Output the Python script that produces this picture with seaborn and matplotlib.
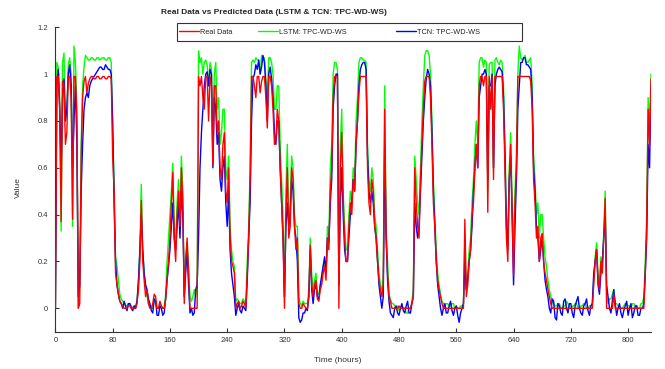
import numpy as np
import pandas as pd
import matplotlib
matplotlib.use("Agg")
import matplotlib.pyplot as plt
import seaborn as sns
from matplotlib.lines import Line2D
from matplotlib.patches import Rectangle

# series sampled every 2 hours (0 .. 832 h), one row = 40 hours
hours = np.arange(0, 833, 2)

real_data = [
    0.0, 0.99, 0.99, 0.85, 0.37, 0.97, 0.95, 0.7, 0.75, 0.99, 0.99, 0.9, 0.38, 0.99, 0.99, 0.8, 0.0, 0.02, 0.65, 0.9,
    0.97, 0.99, 0.92, 0.96, 0.98, 0.99, 0.99, 0.98, 0.98, 0.99, 0.99, 0.98, 0.98, 0.99, 0.99, 0.98, 0.98, 0.99, 0.99, 0.98,
    0.65, 0.5, 0.15, 0.1, 0.06, 0.03, 0.02, 0.01, 0.0, 0.0, 0.0, 0.01, 0.01, 0.0, 0.0, 0.0, 0.0, 0.02, 0.08, 0.2,
    0.46, 0.2, 0.12, 0.05, 0.08, 0.02, 0.0, 0.0, 0.02, 0.06, 0.05, 0.0, 0.0, 0.03, 0.01, 0.0, 0.0, 0.04, 0.12, 0.2,
    0.3, 0.45, 0.58, 0.3, 0.2, 0.4, 0.5, 0.35, 0.6, 0.45, 0.02, 0.2, 0.3, 0.15, 0.0, 0.0, 0.0, 0.0, 0.0, 0.0,
    0.99, 0.95, 0.99, 0.9, 0.85, 0.99, 0.99, 0.8, 0.99, 0.95, 0.61, 0.95, 0.95, 0.75, 0.8, 0.6, 0.55, 0.7, 0.75, 0.5,
    0.45, 0.6, 0.3, 0.2, 0.18, 0.15, 0.0, 0.02, 0.03, 0.0, 0.01, 0.03, 0.02, 0.0, 0.15, 0.3, 0.55, 0.99, 0.99, 0.95,
    0.9, 0.99, 0.99, 0.92, 0.97, 0.99, 0.99, 0.9, 0.77, 0.99, 0.99, 0.95, 0.85, 0.7, 0.72, 0.85, 0.8, 0.6, 0.45, 0.3,
    0.0, 0.4, 0.6, 0.3, 0.35, 0.6, 0.55, 0.35, 0.25, 0.3, 0.02, 0.0, 0.0, 0.02, 0.01, 0.0, 0.0, 0.05, 0.27, 0.1,
    0.05, 0.1, 0.12, 0.04, 0.03, 0.08, 0.1, 0.15, 0.18, 0.12, 0.3, 0.25, 0.5, 0.6, 0.9, 0.99, 0.99, 0.99, 0.0, 0.6,
    0.75, 0.45, 0.3, 0.2, 0.2, 0.35, 0.45, 0.4, 0.55, 0.5, 0.7, 0.8, 0.92, 0.99, 0.99, 0.99, 0.99, 0.99, 0.6, 0.45,
    0.4, 0.55, 0.5, 0.35, 0.3, 0.2, 0.12, 0.08, 0.05, 0.1, 0.85, 0.3, 0.15, 0.05, 0.03, 0.0, 0.0, 0.0, 0.0, 0.0,
    0.01, 0.0, 0.0, 0.0, 0.0, 0.0, 0.0, 0.0, 0.0, 0.02, 0.05, 0.6, 0.45, 0.35, 0.3, 0.55, 0.7, 0.85, 0.97, 0.99,
    0.99, 0.99, 0.9, 0.7, 0.45, 0.35, 0.2, 0.12, 0.08, 0.05, 0.02, 0.0, 0.0, 0.0, 0.0, 0.0, 0.0, 0.0, 0.0, 0.0,
    0.0, 0.0, 0.0, 0.0, 0.0, 0.0, 0.38, 0.05, 0.1, 0.2, 0.25, 0.4, 0.45, 0.6, 0.7, 0.6, 0.95, 0.99, 0.99, 0.95,
    0.99, 0.99, 0.41, 0.99, 0.85, 0.99, 0.55, 0.99, 0.99, 0.99, 0.99, 0.99, 0.99, 0.85, 0.6, 0.3, 0.2, 0.55, 0.7, 0.4,
    0.14, 0.45, 0.6, 0.99, 0.99, 0.99, 0.99, 0.99, 0.99, 0.99, 0.99, 0.99, 0.97, 0.85, 0.55, 0.45, 0.3, 0.35, 0.2, 0.3,
    0.32, 0.2, 0.15, 0.12, 0.08, 0.05, 0.02, 0.0, 0.0, 0.0, 0.0, 0.0, 0.0, 0.0, 0.0, 0.0, 0.0, 0.0, 0.0, 0.0,
    0.0, 0.0, 0.0, 0.0, 0.0, 0.0, 0.0, 0.0, 0.0, 0.0, 0.0, 0.0, 0.0, 0.0, 0.0, 0.0, 0.1, 0.2, 0.25, 0.12,
    0.08, 0.2, 0.15, 0.3, 0.47, 0.0, 0.0, 0.0, 0.0, 0.0, 0.06, 0.0, 0.0, 0.0, 0.0, 0.0, 0.0, 0.0, 0.0, 0.0,
    0.0, 0.0, 0.0, 0.0, 0.0, 0.0, 0.0, 0.0, 0.0, 0.0, 0.0, 0.0, 0.15, 0.35, 0.85, 0.7, 0.98,
]

lstm_pred = [
    0.0, 1.05, 1.03, 0.9, 0.33, 1.05, 1.09, 0.8, 0.85, 1.04, 1.07, 1.0, 0.35, 1.12, 1.05, 0.85, 0.0, 0.1, 0.7, 0.95,
    1.03, 1.08, 1.07, 1.06, 1.06, 1.07, 1.07, 1.06, 1.06, 1.07, 1.07, 1.06, 1.065, 1.07, 1.07, 1.06, 1.06, 1.07, 1.07, 1.05,
    0.75, 0.55, 0.22, 0.18, 0.12, 0.06, 0.04, 0.03, 0.02, 0.01, 0.01, 0.02, 0.02, 0.01, 0.0, 0.01, 0.01, 0.03, 0.1, 0.25,
    0.53, 0.25, 0.15, 0.08, 0.05, 0.02, 0.01, 0.0, 0.0, 0.04, 0.02, 0.0, 0.0, 0.02, 0.01, 0.0, 0.0, 0.06, 0.2, 0.3,
    0.4, 0.5, 0.62, 0.35, 0.3, 0.45, 0.55, 0.4, 0.65, 0.5, 0.05, 0.22, 0.28, 0.18, 0.05, 0.03, 0.05, 0.08, 0.05, 0.1,
    1.1, 1.05, 1.07, 1.0, 1.05, 1.06, 1.04, 0.95, 1.05, 1.02, 0.7, 1.0, 1.05, 0.85, 0.9, 0.7, 0.75, 0.85, 0.85, 0.6,
    0.55, 0.65, 0.35, 0.25, 0.2, 0.18, 0.03, 0.04, 0.03, 0.02, 0.02, 0.04, 0.03, 0.02, 0.2, 0.35, 0.6, 1.05, 1.06, 1.05,
    1.07, 1.06, 1.06, 1.0, 1.08, 1.07, 1.07, 0.98, 0.9, 1.07, 1.07, 1.05, 1.0, 0.85, 0.85, 0.95, 0.95, 0.7, 0.55, 0.4,
    0.05, 0.5, 0.7, 0.35, 0.45, 0.65, 0.6, 0.4, 0.35, 0.35, 0.05, 0.02, 0.01, 0.03, 0.02, 0.02, 0.02, 0.08, 0.3, 0.15,
    0.08, 0.12, 0.15, 0.06, 0.06, 0.1, 0.12, 0.18, 0.2, 0.15, 0.35, 0.3, 0.6, 0.7, 1.0, 1.05, 1.05, 1.02, 0.1, 0.7,
    0.85, 0.5, 0.35, 0.25, 0.25, 0.4, 0.5, 0.45, 0.6, 0.55, 0.8, 0.9, 1.05, 1.07, 1.07, 1.06, 1.06, 1.05, 0.7, 0.55,
    0.5, 0.6, 0.55, 0.4, 0.35, 0.25, 0.15, 0.1, 0.08, 0.12, 0.95, 0.35, 0.2, 0.06, 0.04, 0.02, 0.02, 0.01, 0.0, 0.01,
    -0.01, 0.0, 0.01, 0.0, 0.0, -0.02, -0.02, 0.0, 0.0, 0.03, 0.08, 0.65, 0.55, 0.45, 0.4, 0.6, 0.8, 0.95, 1.08, 1.1,
    1.1, 1.08, 1.0, 0.8, 0.55, 0.4, 0.25, 0.15, 0.1, 0.06, 0.03, 0.02, 0.01, 0.02, 0.02, 0.01, 0.01, 0.02, 0.02, 0.0,
    0.01, 0.0, 0.0, 0.01, 0.01, 0.02, 0.3, 0.08, 0.15, 0.25, 0.3, 0.45, 0.55, 0.7, 0.8, 0.7, 1.05, 1.07, 1.07, 1.03,
    1.06, 1.05, 0.5, 1.04, 1.05, 1.05, 0.6, 1.06, 1.07, 1.05, 1.04, 1.06, 1.05, 0.95, 0.7, 0.4, 0.3, 0.6, 0.75, 0.45,
    0.25, 0.5, 0.65, 1.0, 1.12, 1.07, 1.06, 1.07, 1.08, 1.05, 1.05, 1.06, 1.07, 0.95, 0.65, 0.55, 0.4, 0.45, 0.3, 0.4,
    0.4, 0.3, 0.22, 0.18, 0.12, 0.08, 0.05, 0.03, 0.02, 0.01, 0.01, 0.02, 0.02, 0.0, 0.0, 0.01, 0.01, 0.03, 0.02, 0.0,
    0.0, 0.01, 0.01, 0.02, 0.02, 0.0, 0.0, 0.01, 0.01, 0.02, 0.02, 0.0, 0.0, 0.01, 0.01, 0.02, 0.12, 0.22, 0.28, 0.15,
    0.1, 0.22, 0.18, 0.32, 0.5, 0.05, 0.02, 0.04, 0.04, 0.06, 0.08, 0.02, 0.02, 0.01, 0.01, 0.0, 0.0, 0.01, 0.02, 0.02,
    0.01, 0.01, 0.0, 0.02, 0.02, 0.01, 0.01, 0.0, 0.0, 0.02, 0.02, 0.05, 0.2, 0.4, 0.9, 0.75, 1.0,
]

tcn_pred = [
    0.0, 0.95, 1.02, 0.85, 0.6, 0.9, 0.98, 0.8, 0.85, 1.0, 1.04, 0.95, 0.6, 0.8, 0.95, 0.7, 0.05, 0.1, 0.5, 0.7,
    0.85, 0.9, 0.92, 0.9, 0.95, 0.97, 0.98, 0.99, 1.0, 1.01, 1.02, 1.03, 1.03, 1.02, 1.02, 1.04, 1.03, 1.02, 1.02, 1.0,
    0.8, 0.45, 0.2, 0.1, 0.06, 0.03, 0.02, 0.0, 0.03, 0.01, -0.01, 0.02, 0.02, 0.0, -0.01, 0.01, 0.0, 0.03, 0.12, 0.25,
    0.4, 0.25, 0.15, 0.1, 0.08, 0.04, 0.02, -0.01, -0.02, 0.04, 0.03, -0.03, -0.03, 0.01, 0.0, -0.03, -0.02, 0.04, 0.12, 0.18,
    0.25, 0.35, 0.45, 0.3, 0.25, 0.35, 0.45, 0.3, 0.5, 0.4, 0.05, 0.15, 0.25, 0.1, -0.02, 0.0, -0.03, -0.02, 0.08, 0.1,
    0.3, 0.6, 0.75, 0.85, 0.95, 1.0, 1.01, 0.95, 1.02, 1.0, 0.6, 0.9, 0.85, 0.7, 0.75, 0.55, 0.5, 0.6, 0.65, 0.45,
    0.35, 0.5, 0.25, 0.15, 0.1, 0.05, -0.03, 0.0, 0.02, -0.01, -0.02, 0.01, 0.0, -0.01, 0.12, 0.3, 0.45, 0.8, 0.98, 1.0,
    1.04, 1.02, 1.06, 1.0, 1.03, 1.08, 1.05, 0.95, 0.8, 1.0, 1.03, 0.98, 0.9, 0.75, 0.7, 0.8, 0.8, 0.6, 0.45, 0.3,
    0.05, 0.35, 0.45, 0.35, 0.4, 0.55, 0.5, 0.35, 0.3, 0.2, -0.04, -0.06, -0.05, -0.02, -0.02, 0.0, -0.01, 0.05, 0.25, 0.08,
    0.02, 0.08, 0.1, 0.05, 0.04, 0.1, 0.14, 0.18, 0.22, 0.15, 0.3, 0.28, 0.45, 0.55, 0.85, 0.95, 1.0, 1.0, 0.1, 0.45,
    0.6, 0.4, 0.25, 0.2, 0.2, 0.3, 0.4, 0.45, 0.55, 0.5, 0.7, 0.8, 0.95, 1.02, 1.04, 1.05, 1.05, 1.02, 0.65, 0.5,
    0.45, 0.5, 0.45, 0.35, 0.3, 0.2, 0.1, 0.05, 0.0, 0.05, 0.7, 0.3, 0.12, 0.03, -0.02, -0.03, -0.04, 0.0, 0.01, -0.02,
    -0.03, 0.0, 0.02, -0.01, -0.02, 0.01, 0.03, -0.02, -0.02, 0.02, 0.05, 0.45, 0.35, 0.3, 0.35, 0.5, 0.65, 0.8, 0.9, 0.98,
    1.02, 1.0, 0.95, 0.75, 0.5, 0.35, 0.2, 0.1, 0.05, 0.0, -0.03, 0.0, 0.02, -0.02, -0.02, 0.01, 0.03, -0.01, -0.03, 0.0,
    0.01, -0.03, -0.06, -0.02, 0.0, 0.02, 0.2, 0.08, 0.12, 0.2, 0.25, 0.35, 0.5, 0.6, 0.7, 0.6, 0.9, 0.95, 1.0, 1.0,
    1.02, 1.0, 0.55, 0.95, 0.95, 1.0, 0.6, 0.95, 1.0, 1.02, 1.03, 1.02, 1.01, 0.9, 0.65, 0.35, 0.25, 0.55, 0.65, 0.4,
    0.1, 0.35, 0.55, 0.85, 0.95, 1.05, 1.05, 1.07, 1.07, 1.04, 1.04, 1.03, 1.02, 0.9, 0.6, 0.5, 0.35, 0.3, 0.2, 0.25,
    0.3, 0.2, 0.12, 0.08, 0.05, 0.0, -0.02, 0.04, 0.03, -0.04, -0.05, 0.02, 0.01, -0.02, -0.03, 0.03, 0.04, 0.0, -0.02, 0.02,
    0.02, -0.02, -0.04, 0.01, 0.03, 0.05, 0.0, -0.02, -0.03, 0.01, 0.02, 0.04, -0.01, -0.03, 0.01, 0.02, 0.15, 0.2, 0.25, 0.1,
    0.06, 0.15, 0.2, 0.3, 0.4, 0.1, 0.05, 0.0, -0.02, 0.03, 0.08, 0.02, -0.03, 0.0, 0.02, -0.02, -0.04, -0.01, 0.01, 0.03,
    -0.03, 0.0, 0.02, -0.04, -0.02, 0.01, 0.01, -0.03, -0.03, 0.0, 0.0, 0.02, 0.15, 0.3, 0.7, 0.6, 0.95,
]

x_ticks = [0, 80, 160, 240, 320, 400, 480, 560, 640, 720, 800]
y_ticks = [0, 0.2, 0.4, 0.6, 0.8, 1.0, 1.2]
y_tick_labels = ["0", "0.2", "0.4", "0.6", "0.8", "1", "1.2"]

df = pd.DataFrame({"Time": hours, "Real": real_data, "LSTM": lstm_pred, "TCN": tcn_pred})

sns.set_style("ticks")
plt.rcParams["font.family"] = ["Liberation Sans", "DejaVu Sans"]

W, H = 665, 369
fig = plt.figure(figsize=(W / 100, H / 100), dpi=100)
ax = fig.add_axes([55.4 / W, 1 - 331.7 / H, (651 - 55.4) / W, (331.7 - 27.3) / H])

lw = 1.0
sns.lineplot(data=df, x="Time", y="LSTM", color="#00ff00", lw=lw, ax=ax, zorder=2)
sns.lineplot(data=df, x="Time", y="TCN", color="#0000ff", lw=lw, ax=ax, zorder=3)
sns.lineplot(data=df, x="Time", y="Real", color="#ff0000", lw=lw, ax=ax, zorder=4)

ax.set_xlim(0, 832)
ax.set_ylim(-0.1, 1.2)
ax.set_xticks(x_ticks)
ax.set_yticks(y_ticks)
ax.set_yticklabels(y_tick_labels)
ax.tick_params(direction="in", length=3, width=0.8, colors="#333333", labelsize=5.5)
ax.tick_params(axis="y", pad=5.5)
ax.tick_params(axis="x", pad=3.5)
for s in ["top", "right"]:
    ax.spines[s].set_visible(False)
for s in ["left", "bottom"]:
    ax.spines[s].set_color("#333333")
    ax.spines[s].set_linewidth(0.8)

ax.set_xlabel("Time (hours)", fontsize=6, color="#333333")
ax.set_ylabel("Value", fontsize=6, color="#333333")
ax.xaxis.set_label_coords(0.474, -0.083)
ax.yaxis.set_label_coords(-0.056, 0.472)

fig.text(274 / W, 1 - 13 / H, "Real Data vs Predicted Data (LSTM & TCN: TPC-WD-WS)",
         ha="center", va="center", fontsize=6, fontweight="bold")

# legend box and entries
fig.add_artist(Rectangle((176.7 / W, 1 - 41 / H), (522 - 176.7) / W, (41 - 22.7) / H,
                         transform=fig.transFigure, facecolor="white",
                         edgecolor="#333333", lw=0.8, zorder=4))
entries = [("Real Data", "#ff0000", 179), ("LSTM: TPC-WD-WS", "#00ff00", 258),
           ("TCN: TPC-WD-WS", "#0000ff", 396)]
for label, color, xp in entries:
    fig.legend(handles=[Line2D([], [], color=color, lw=lw)], labels=[label],
               loc="center left", bbox_to_anchor=(xp / W, 1 - 32 / H),
               frameon=False, fontsize=5.3, borderpad=0, borderaxespad=0,
               handlelength=2.7, handletextpad=0.2)

fig.savefig("out.png", dpi=100)
